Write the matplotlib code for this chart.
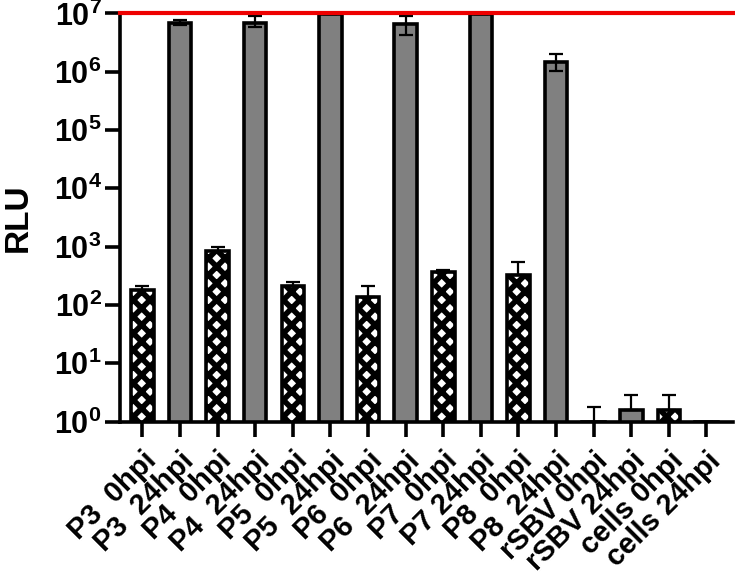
import numpy as np
import matplotlib
matplotlib.use("Agg")
import matplotlib.pyplot as plt

plt.rcParams['font.family'] = ['Liberation Sans', 'DejaVu Sans']
plt.rcParams['font.weight'] = 'bold'
plt.rcParams['mathtext.fontset'] = 'custom'
plt.rcParams['mathtext.rm'] = 'Liberation Sans:bold'
plt.rcParams['mathtext.bf'] = 'Liberation Sans:bold'
plt.rcParams['hatch.linewidth'] = 4.0

labels = ["P3  0hpi", "P3  24hpi", "P4  0hpi", "P4  24hpi", "P5  0hpi", "P5  24hpi",
          "P6  0hpi", "P6  24hpi", "P7  0hpi", "P7 24hpi", "P8  0hpi", "P8  24hpi",
          "rSBV 0hpi", "rSBV 24hpi", "cells 0hpi", "cells 24hpi"]
values = [178, 6.9e6, 855, 6.9e6, 215, 9.6e6, 134, 6.6e6, 366, 9.6e6, 325, 1.48e6,
          1.0, 1.59, 1.59, 1.0]
err_up = [32, 0.8e6, 145, 2.0e6, 30, 0, 73, 2.5e6, 34, 0, 230, 0.56e6,
          0.77, 1.28, 1.28, 0]
err_lo = [0, 0.5e6, 0, 1.15e6, 0, 0, 0, 2.4e6, 0, 0, 0, 0.46e6,
          0, 0, 0, 0]
hatched = [True, False, True, False, True, False, True, False, True, False, True, False,
           True, False, True, False]
limit = 1e7

fig = plt.figure(figsize=(7.35, 5.83), dpi=100)
ax = fig.add_axes([0.163, 0.277, 0.834, 0.7])

x = np.arange(len(labels))
for i in range(len(labels)):
    if hatched[i]:
        ax.bar(x[i], values[i], width=0.6, facecolor='white', edgecolor='black',
               hatch='xx', linewidth=2.6, zorder=2)
    else:
        ax.bar(x[i], values[i], width=0.6, facecolor='#808080', edgecolor='black',
               linewidth=2.6, zorder=2)

ax.errorbar(x, values, yerr=[err_lo, err_up], fmt='none', ecolor='black',
            elinewidth=1.6, capsize=5, capthick=1.6, zorder=3)

ax.axhline(limit, color='#ee0000', linewidth=3, zorder=4, clip_on=False)

ax.set_yscale('log')
ax.set_ylim(1, 1e7)
ax.set_xlim(-0.6, 15.7)
ax.set_yticks([10.0 ** k for k in range(8)])
ax.set_yticklabels([r'$10^{%d}$' % k for k in range(8)], fontsize=22)
ax.yaxis.set_minor_locator(matplotlib.ticker.NullLocator())

ax.set_xticks(x)
ax.set_xticklabels(labels, rotation=45, ha='right', rotation_mode='anchor',
                   fontsize=21, fontweight='bold')

ax.set_ylabel('RLU', fontsize=24, fontweight='bold')
ax.yaxis.set_label_coords(-0.14, 0.5)

for s in ['top', 'right']:
    ax.spines[s].set_visible(False)
for s in ['left', 'bottom']:
    ax.spines[s].set_linewidth(2.6)
ax.tick_params(axis='both', which='major', length=11, width=2.6, pad=2)
ax.tick_params(axis='x', pad=7)

fig.savefig('out.png', dpi=100)
